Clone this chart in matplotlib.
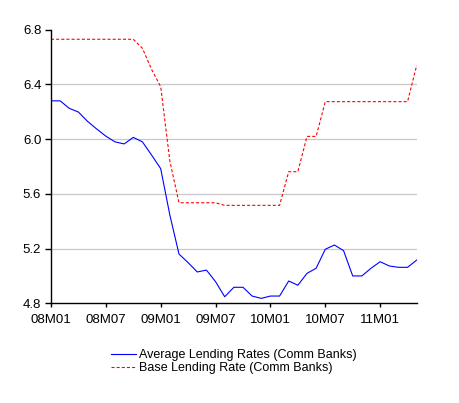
import matplotlib
matplotlib.use("Agg")
from matplotlib import pyplot as plt

months = ["08M01", "08M02", "08M03", "08M04", "08M05", "08M06", "08M07", "08M08", "08M09", "08M10",
          "08M11", "08M12", "09M01", "09M02", "09M03", "09M04", "09M05", "09M06", "09M07", "09M08",
          "09M09", "09M10", "09M11", "09M12", "10M01", "10M02", "10M03", "10M04", "10M05", "10M06",
          "10M07", "10M08", "10M09", "10M10", "10M11", "10M12", "11M01", "11M02", "11M03", "11M04",
          "11M05"]
avg_lending = [6.28, 6.28, 6.225, 6.198, 6.13, 6.074, 6.022, 5.98, 5.965, 6.013,
               5.98, 5.884, 5.784, 5.445, 5.16, 5.097, 5.029, 5.043, 4.958, 4.848,
               4.917, 4.917, 4.853, 4.836, 4.853, 4.853, 4.963, 4.932, 5.019, 5.056,
               5.195, 5.226, 5.185, 5.0, 5.0, 5.056, 5.104, 5.073, 5.063, 5.063,
               5.116]
base_lending = [6.73, 6.73, 6.73, 6.73, 6.73, 6.73, 6.73, 6.73, 6.73, 6.73,
                6.664, 6.51, 6.383, 5.84, 5.535, 5.535, 5.535, 5.535, 5.535, 5.516,
                5.516, 5.516, 5.516, 5.516, 5.516, 5.516, 5.762, 5.762, 6.02, 6.02,
                6.274, 6.274, 6.274, 6.274, 6.274, 6.274, 6.274, 6.274, 6.274, 6.274,
                6.54]
tick_labels = ["08M01", "08M07", "09M01", "09M07", "10M01", "10M07", "11M01"]
y_ticks = [4.8, 5.2, 5.6, 6.0, 6.4, 6.8]

plt.rcParams['font.family'] = ['Liberation Sans', 'DejaVu Sans']
plt.rcParams['lines.scale_dashes'] = False

fig = plt.figure(figsize=(4.6, 4.03), dpi=100)
ax = fig.add_axes([51 / 460, 1 - 303.3 / 403, (416.7 - 51) / 460, (303.3 - 29.7) / 403])

x = list(range(len(months)))
ax.plot(x, avg_lending, color="#0000ff", lw=0.8, label="Average Lending Rates (Comm Banks)")
ax.plot(x, base_lending, color="#ff0000", lw=0.8, dashes=(2.2, 1.5),
        label="Base Lending Rate (Comm Banks)")

ax.set_xlim(0, len(months) - 1)
ax.set_ylim(4.8, 6.8)
ax.set_xticks([months.index(m) for m in tick_labels])
ax.set_xticklabels(tick_labels)
ax.set_yticks(y_ticks)
ax.set_yticklabels(["%.1f" % v for v in y_ticks])
for v in y_ticks[1:-1]:
    ax.axhline(v, color="#c8c8c8", lw=0.9, zorder=0)

for s in ["top", "right"]:
    ax.spines[s].set_visible(False)
for s in ["left", "bottom"]:
    ax.spines[s].set_linewidth(1.0)
ax.tick_params(labelsize=9.5, width=1.0, colors="black")
ax.tick_params(axis="x", length=3, pad=5)
ax.tick_params(axis="y", length=4, pad=3)

fig.legend(loc="upper center", bbox_to_anchor=(233.8 / 460, 1 - 343 / 403), frameon=False,
           fontsize=9, handlelength=2.0, handletextpad=0.3, labelspacing=0.05,
           borderpad=0)

fig.savefig("out.png", dpi=100)
